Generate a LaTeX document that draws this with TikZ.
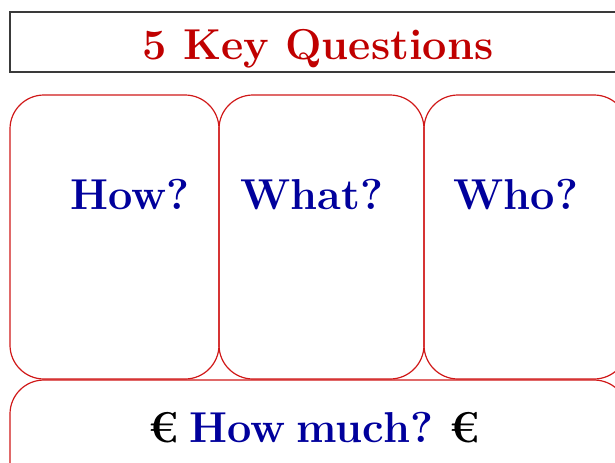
\documentclass[tikz,border=0pt]{standalone}
\usetikzlibrary{positioning}
\usepackage{xcolor}
\definecolor{TitleRed}{HTML}{C00000}
\definecolor{QBlue}{HTML}{00009C}
\definecolor{BoxRed}{HTML}{D01818}
\definecolor{Frame}{HTML}{3A3A3A}

\begin{document}
\begin{tikzpicture}[x=0.5pt,y=-0.5pt]
\useasboundingbox (0,0) rectangle (615,462);
\draw[Frame,line width=0.6pt] (10,12) rectangle (640,72);
\node[anchor=base,font=\fontsize{21.6}{26}\selectfont\bfseries,text=TitleRed] (title) at (318,59) {5 Key Questions};
\foreach \l/\r/\c/\s/\n in {10/219/130/How?/how,219/424/312/What?/what,424/628/516/Who?/who} {\draw[BoxRed,line width=0.6pt,rounded corners=17pt] (\l,95) rectangle (\r,379); \node[anchor=base,font=\fontsize{21.6}{26}\selectfont\bfseries,text=QBlue] (\n) at (\c,209) {\s};}
\draw[BoxRed,line width=0.6pt,rounded corners=17pt] (10,380) rectangle (628,520);
\node[anchor=base,font=\fontsize{21.6}{26}\selectfont\bfseries] (cost) at (314,442) {\spaceskip=5.5pt\relax € \textcolor{QBlue}{How much?} €};
\end{tikzpicture}
\end{document}
